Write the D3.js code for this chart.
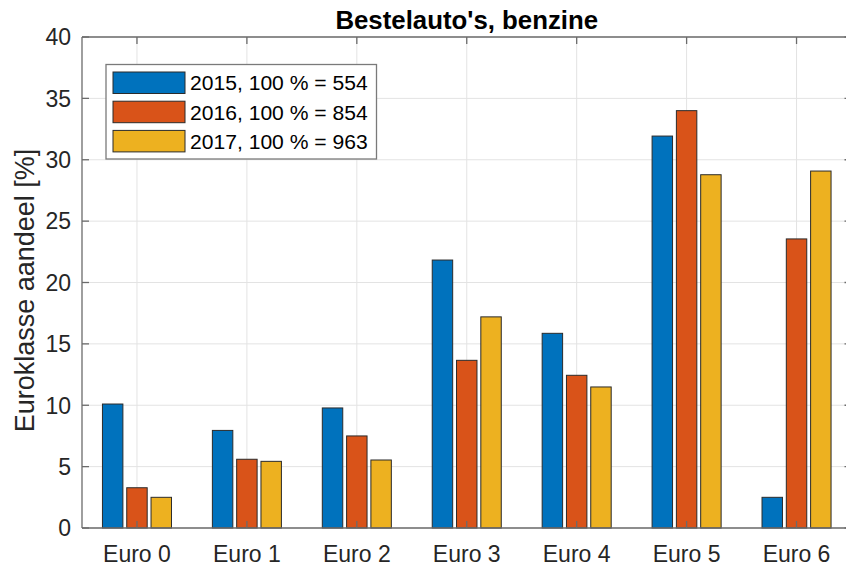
<!DOCTYPE html>
<html>
<head>
<meta charset="utf-8">
<script src="https://cdn.jsdelivr.net/npm/d3@7"></script>
<style>
  html, body { margin: 0; padding: 0; background: #fff; }
  svg { display: block; font-family: Arial, "Liberation Sans", Helvetica, sans-serif; }
</style>
</head>
<body>
<svg id="chart" width="846" height="567"></svg>
<script>
const categories = ["Euro 0", "Euro 1", "Euro 2", "Euro 3", "Euro 4", "Euro 5", "Euro 6"];
const seriesNames = ["2015, 100 % = 554", "2016, 100 % = 854", "2017, 100 % = 963"];
const values2015 = [10.1, 7.95, 9.78, 21.83, 15.86, 31.93, 2.5];
const values2016 = [3.28, 5.6, 7.5, 13.66, 12.44, 34.0, 23.55];
const values2017 = [2.5, 5.43, 5.54, 17.2, 11.49, 28.78, 29.08];
const yTicks = [0, 5, 10, 15, 20, 25, 30, 35, 40];
const colors = ["#0072BD", "#D95319", "#EDB120"];
const titleText = "Bestelauto's, benzine";
const yLabelText = "Euroklasse aandeel [%]";

const series = [values2015, values2016, values2017];

const svg = d3.select("#chart");
const pL = 82, pR = 851.5, pT = 37, pB = 528;

const x = d3.scaleLinear().domain([0.5, categories.length + 0.5]).range([pL, pR]);
const y = d3.scaleLinear().domain([0, 40]).range([pB, pT]);

const gridColor = "#e3e3e3";
const axisColor = "#6b6b6b";
const textColor = "#262626";

// grid
const g = svg.append("g");
g.selectAll(".gy").data(yTicks).enter().append("line")
  .attr("x1", pL).attr("x2", pR)
  .attr("y1", d => y(d)).attr("y2", d => y(d))
  .attr("stroke", gridColor).attr("stroke-width", 1);
g.selectAll(".gx").data(categories).enter().append("line")
  .attr("x1", (d, i) => x(i + 1)).attr("x2", (d, i) => x(i + 1))
  .attr("y1", pT).attr("y2", pB)
  .attr("stroke", gridColor).attr("stroke-width", 1);

// bars
const offsets = [-0.221, 0, 0.221];
const barW = 0.186;
series.forEach((vals, s) => {
  svg.append("g").selectAll("rect").data(vals).enter().append("rect")
    .attr("x", (d, i) => x(i + 1 + offsets[s] - barW / 2))
    .attr("width", x(barW) - x(0))
    .attr("y", d => y(d))
    .attr("height", d => y(0) - y(d))
    .attr("fill", colors[s])
    .attr("stroke", "#2b2b2b")
    .attr("stroke-width", 1);
});

// axes box lines
const boxG = svg.append("g").attr("stroke", axisColor).attr("stroke-width", 1.3);
boxG.append("line").attr("x1", pL).attr("x2", pR).attr("y1", pT).attr("y2", pT);
boxG.append("line").attr("x1", pL).attr("x2", pR).attr("y1", pB).attr("y2", pB);
boxG.append("line").attr("x1", pL).attr("x2", pL).attr("y1", pT).attr("y2", pB);
boxG.append("line").attr("x1", pR).attr("x2", pR).attr("y1", pT).attr("y2", pB);

// ticks
const tl = 7;
const tickG = svg.append("g").attr("stroke", axisColor).attr("stroke-width", 1.3);
yTicks.forEach(t => {
  tickG.append("line").attr("x1", pL).attr("x2", pL + tl).attr("y1", y(t)).attr("y2", y(t));
  tickG.append("line").attr("x1", pR).attr("x2", pR - tl).attr("y1", y(t)).attr("y2", y(t));
});
categories.forEach((c, i) => {
  tickG.append("line").attr("x1", x(i + 1)).attr("x2", x(i + 1)).attr("y1", pB).attr("y2", pB - tl);
  tickG.append("line").attr("x1", x(i + 1)).attr("x2", x(i + 1)).attr("y1", pT).attr("y2", pT + tl);
});

// tick labels
svg.append("g").selectAll("text").data(yTicks).enter().append("text")
  .attr("x", pL - 11).attr("y", d => y(d)).attr("dy", "0.36em")
  .attr("text-anchor", "end").attr("font-size", 23).attr("fill", textColor)
  .text(d => d);
svg.append("g").selectAll("text").data(categories).enter().append("text")
  .attr("x", (d, i) => x(i + 1)).attr("y", 561.5)
  .attr("text-anchor", "middle").attr("font-size", 23).attr("fill", textColor)
  .text(d => d);

// y label
svg.append("text")
  .attr("transform", `translate(33.5,290.5) rotate(-90)`)
  .attr("text-anchor", "middle").attr("font-size", 27).attr("fill", textColor)
  .text(yLabelText);

// title
svg.append("text")
  .attr("x", (pL + pR) / 2).attr("y", 28.5)
  .attr("text-anchor", "middle").attr("font-size", 25.8).attr("font-weight", "bold").attr("fill", "#000")
  .text(titleText);

// legend
const lg = svg.append("g");
lg.append("rect").attr("x", 106).attr("y", 64.5).attr("width", 270.5).attr("height", 94.5)
  .attr("fill", "#fff").attr("stroke", "#7a7a7a").attr("stroke-width", 1.3);
seriesNames.forEach((n, i) => {
  const ry = 72 + i * 29.2;
  lg.append("rect").attr("x", 113).attr("y", ry).attr("width", 72).attr("height", 21.5)
    .attr("fill", colors[i]).attr("stroke", "#2b2b2b").attr("stroke-width", 1);
  lg.append("text").attr("x", 190).attr("y", ry + 10.75).attr("dy", "0.36em")
    .attr("font-size", 21.1).attr("fill", "#000").text(n);
});
</script>
</body>
</html>
